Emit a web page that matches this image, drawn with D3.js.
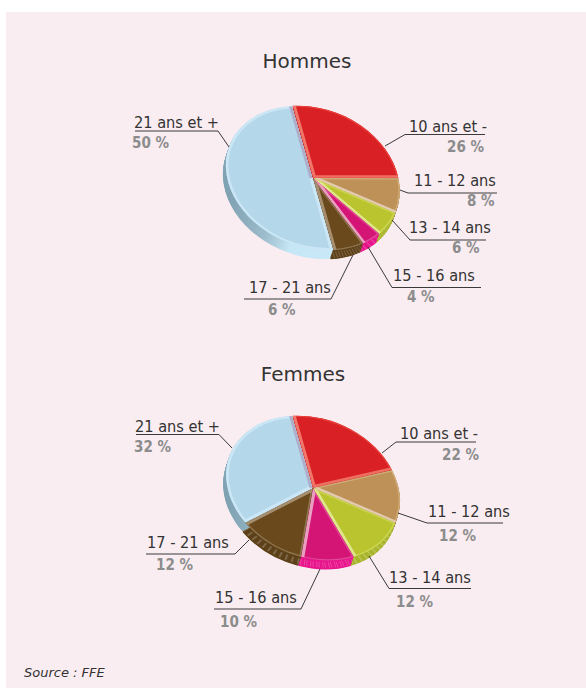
<!DOCTYPE html>
<html>
<head>
<meta charset="utf-8">
<script src="https://cdn.jsdelivr.net/npm/d3@7"></script>
<style>
  html, body { margin: 0; padding: 0; background: #fff; }
  svg { display: block; }
  text { font-family: "DejaVu Sans", sans-serif; fill: #333; }
  .title { font-size: 20px; text-anchor: middle; }
  .label { font-family: "DejaVu Sans Condensed", "DejaVu Sans", sans-serif; font-size: 16.2px; }
  .pct { font-family: "DejaVu Sans Condensed", "DejaVu Sans", sans-serif; font-size: 15px; font-weight: bold; fill: #8c8c8c; }
  .source { font-size: 13px; font-style: italic; }
  .leader { fill: none; stroke: #3a3a3a; stroke-width: 1; }
</style>
</head>
<body>
<svg id="chart" width="586" height="688"></svg>
<script>
const categories = ['10 ans et -', '11 - 12 ans', '13 - 14 ans', '15 - 16 ans', '17 - 21 ans', '21 ans et +']
const hommesValues = [26, 8, 6, 4, 6, 50]
const femmesValues = [22, 12, 12, 10, 12, 32]

const topColors = ['#d92024', '#bd9157', '#b9c42e', '#d41575', '#6a4a1d', '#b5d7ea']
const rimColors = ['#e8403c', '#d0ab78', '#cdd653', '#e2489a', '#8f7650', '#cbe7f6']
const startEdgeColors = ['#f0776a', null, null, null, null, '#cbe7f6']
const endEdgeColors = ['#ee6f62', '#e3cbb0', '#e0e68c', '#e9a0c0', '#a58f70', '#aeaeca']
const wallColors = ['#b51a1c', '#a07b45', '#a9b52b', '#e8168c', '#5e421a', 'url(#blueWall)']

// annotation layout: [line points], label [x, baseline], pct [x, baseline]
const hommesLayout = [
  {line: [[385, 146], [405, 134.5], [485, 134.5]], label: [409, 132], pct: [447, 152]},
  {line: [[400, 190], [408, 193], [497, 193]], label: [414, 186], pct: [467, 206]},
  {line: [[392, 220], [410, 240], [486, 240]], label: [409, 233], pct: [452, 253]},
  {line: [[368, 247], [392, 287.5], [481, 287.5]], label: [393, 281], pct: [407, 302]},
  {line: [[353, 255], [331, 299], [244, 299]], label: [249, 293], pct: [268, 315]},
  {line: [[229, 147], [218, 131], [135, 131]], label: [134, 128], pct: [132, 148]},
]
const femmesLayout = [
  {line: [[382, 453], [396, 442], [476, 442]], label: [400, 439], pct: [442, 460]},
  {line: [[398, 513], [427, 523], [503, 523]], label: [428, 517], pct: [439, 541]},
  {line: [[369, 556], [389, 588.5], [471, 588.5]], label: [389, 583], pct: [396, 607]},
  {line: [[320, 569], [301, 609], [214, 609]], label: [215, 603], pct: [220, 627]},
  {line: [[249, 540], [235, 554], [146, 554]], label: [147, 548], pct: [156, 570]},
  {line: [[232, 448], [219, 434.5], [136, 434.5]], label: [135, 432], pct: [134, 452]},
]

const rx = 85
const ry = 72
const skew = 0.18
const depth = 9
const wallShift = -3
const explode = 0.5
const firstAngle = -3.5 * Math.PI / 180

const svg = d3.select('#chart')

svg.append('rect')
  .attr('x', 6).attr('y', 12)
  .attr('width', 580).attr('height', 676)
  .attr('fill', '#f9edf1')

const defs = svg.append('defs')
const grad = defs.append('linearGradient')
  .attr('id', 'blueWall')
  .attr('x1', '0').attr('x2', '1').attr('y1', '0').attr('y2', '0')
grad.append('stop').attr('offset', '0').attr('stop-color', '#7fa2b2')
grad.append('stop').attr('offset', '0.3').attr('stop-color', '#9dbccb')
grad.append('stop').attr('offset', '0.55').attr('stop-color', '#c5e6f5')
grad.append('stop').attr('offset', '1').attr('stop-color', '#c9e9f8')

const pie = d3.pie()
  .sort(null)
  .startAngle(firstAngle)
  .endAngle(firstAngle + 2 * Math.PI)
const arc = d3.arc().innerRadius(0).outerRadius(rx)
const rimArc = d3.arc().innerRadius(rx).outerRadius(rx)

function sliceOffset(d) {
  const mid = (d.startAngle + d.endAngle) / 2
  const ux = Math.sin(mid) * explode
  const uy = -Math.cos(mid) * explode * ry / rx
  return [ux + skew * uy, uy]
}

function drawPie(name, values, layout, cx, cy, titleX, titleY) {
  svg.append('text').attr('class', 'title').attr('x', titleX).attr('y', titleY).text(name)

  const slices = pie(values)
  const g = svg.append('g').attr('transform', `translate(${cx}, ${cy})`)
  // flattened, leaning ellipse of the original drawing
  const flat = `matrix(1, 0, ${skew}, ${ry / rx}, 0, 0)`
  const steps = d3.range(depth * 2, 0, -1).map((i) => i / 2)

  // side walls, stacked copies of each slice shifted down and left
  const walls = g.append('g')
  slices.forEach((d, i) => {
    const [ox, oy] = sliceOffset(d)
    steps.forEach((s) => {
      walls.append('path')
        .attr('transform', `translate(${ox + wallShift * s / depth}, ${oy + s}) ${flat}`)
        .attr('d', arc(d))
        .attr('fill', wallColors[i])
    })
    if (i !== 5) {
      walls.append('path')
        .attr('transform', `translate(${ox + wallShift / 2}, ${oy + depth / 2}) ${flat}`)
        .attr('d', rimArc(d))
        .attr('fill', 'none')
        .attr('stroke', '#fff')
        .attr('stroke-opacity', 0.2)
        .attr('stroke-width', depth - 2)
        .attr('stroke-dasharray', '1 5')
    }
  })

  // top faces with a thin rim and lighter edges, clipped to the slice
  slices.forEach((d, i) => {
    const [ox, oy] = sliceOffset(d)
    const clipId = `clip-${name}-${i}`
    defs.append('clipPath').attr('id', clipId)
      .append('path').attr('d', arc(d))
    const top = g.append('g')
      .attr('transform', `translate(${ox}, ${oy}) ${flat}`)
    const clipped = top.append('g').attr('clip-path', `url(#${clipId})`)
    top.insert('path', ':first-child')
      .attr('d', arc(d))
      .attr('fill', topColors[i])
    clipped.append('path')
      .attr('d', arc(d))
      .attr('fill', 'none')
      .attr('stroke', rimColors[i])
      .attr('stroke-width', i === 5 ? 5 : 3)
    const edge = (angle, color) => {
      clipped.append('line')
        .attr('x1', 0).attr('y1', 0)
        .attr('x2', rx * Math.sin(angle)).attr('y2', -rx * Math.cos(angle))
        .attr('stroke', color)
        .attr('stroke-width', 6)
    }
    if (startEdgeColors[i]) edge(d.startAngle, startEdgeColors[i])
    edge(d.endAngle, endEdgeColors[i])
  })

  const line = d3.line()
  layout.forEach((l, i) => {
    svg.append('path').attr('class', 'leader').attr('d', line(l.line))
    svg.append('text').attr('class', 'label')
      .attr('x', l.label[0]).attr('y', l.label[1]).text(categories[i])
    svg.append('text').attr('class', 'pct')
      .attr('x', l.pct[0]).attr('y', l.pct[1]).text(values[i] + ' %')
  })
}

drawPie('Hommes', hommesValues, hommesLayout, 313, 178, 307, 68)
drawPie('Femmes', femmesValues, femmesLayout, 313, 488, 303, 381)

svg.append('text').attr('class', 'source').attr('x', 24).attr('y', 677).text('Source : FFE')
</script>
</body>
</html>
